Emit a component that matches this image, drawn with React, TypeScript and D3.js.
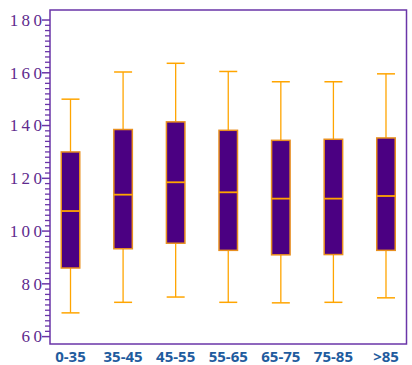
import React from "react";
import * as d3 from "d3";

const categories = ["0-35", "35-45", "45-55", "55-65", "65-75", "75-85", ">85"];
const whiskerLow = [69, 73, 75, 73, 72.8, 73, 74.7];
const q1 = [86, 93.3, 95.4, 92.7, 91, 91.1, 92.7];
const median = [107.6, 113.8, 118.5, 114.7, 112.3, 112.3, 113.3];
const q3 = [130, 138.5, 141.4, 138.2, 134.4, 134.8, 135.3];
const whiskerHigh = [150, 160.3, 163.6, 160.5, 156.6, 156.6, 159.6];
const majorTicks = [60, 80, 100, 120, 140, 160, 180];

const W = 412, H = 365;
const left = 50, right = 406.5, top = 10, bottom = 344;
const purple = "#6a35a8";
const labelPurple = "#5e2a8e";

export default function App() {
  const x = d3.scalePoint<string>().domain(categories).range([left, right]).padding(0.39);
  const y = d3.scaleLinear().domain([57.2, 183.8]).range([bottom, top]);
  const minor = d3.range(60, 181, 2).filter((v) => v % 20 !== 0);
  const bw = 18.5;
  const cw = 18;
  return (
    <svg width={W} height={H} style={{ position: "absolute", left: 0, top: 0 }}>
      <rect x={0} y={0} width={W} height={H} fill="#fff" />
      <rect x={left} y={top} width={right - left} height={bottom - top} fill="none" stroke={purple} strokeWidth={1.5} />
      {minor.map((v) => (
        <line key={"m" + v} x1={45} x2={left} y1={y(v)} y2={y(v)} stroke={purple} strokeWidth={1.3} />
      ))}
      {majorTicks.map((v) => (
        <g key={"M" + v}>
          <line x1={42} x2={left} y1={y(v)} y2={y(v)} stroke={purple} strokeWidth={1.5} />
          <text
            x={42}
            y={y(v)}
            dy="0.34em"
            textAnchor="end"
            fill={labelPurple}
            fontFamily="Liberation Serif"
            fontSize={17}
          >
            {String(v).split("").join("\u2009")}
          </text>
        </g>
      ))}
      {categories.map((c, i) => {
        const cx = x(c)!;
        return (
          <g key={c}>
            <line x1={cx} x2={cx} y1={y(whiskerHigh[i])} y2={y(q3[i])} stroke="#ffa500" strokeWidth={1.3} />
            <line x1={cx} x2={cx} y1={y(q1[i])} y2={y(whiskerLow[i])} stroke="#ffa500" strokeWidth={1.3} />
            <line x1={cx - cw / 2} x2={cx + cw / 2} y1={y(whiskerHigh[i])} y2={y(whiskerHigh[i])} stroke="#ffa500" strokeWidth={1.5} />
            <line x1={cx - cw / 2} x2={cx + cw / 2} y1={y(whiskerLow[i])} y2={y(whiskerLow[i])} stroke="#ffa500" strokeWidth={1.5} />
            <rect
              x={cx - bw / 2}
              y={y(q3[i])}
              width={bw}
              height={y(q1[i]) - y(q3[i])}
              fill="#4b0082"
              stroke="#e88f1f"
              strokeWidth={1.5}
            />
            <line x1={cx - bw / 2} x2={cx + bw / 2} y1={y(median[i])} y2={y(median[i])} stroke="#ffa500" strokeWidth={1.8} />
            <text
              x={cx}
              y={361.5}
              textAnchor="middle"
              fill="#1f5c9e"
              fontFamily="Open Sans"
              fontWeight={700}
              fontSize={15}
            >
              {c}
            </text>
          </g>
        );
      })}
    </svg>
  );
}
